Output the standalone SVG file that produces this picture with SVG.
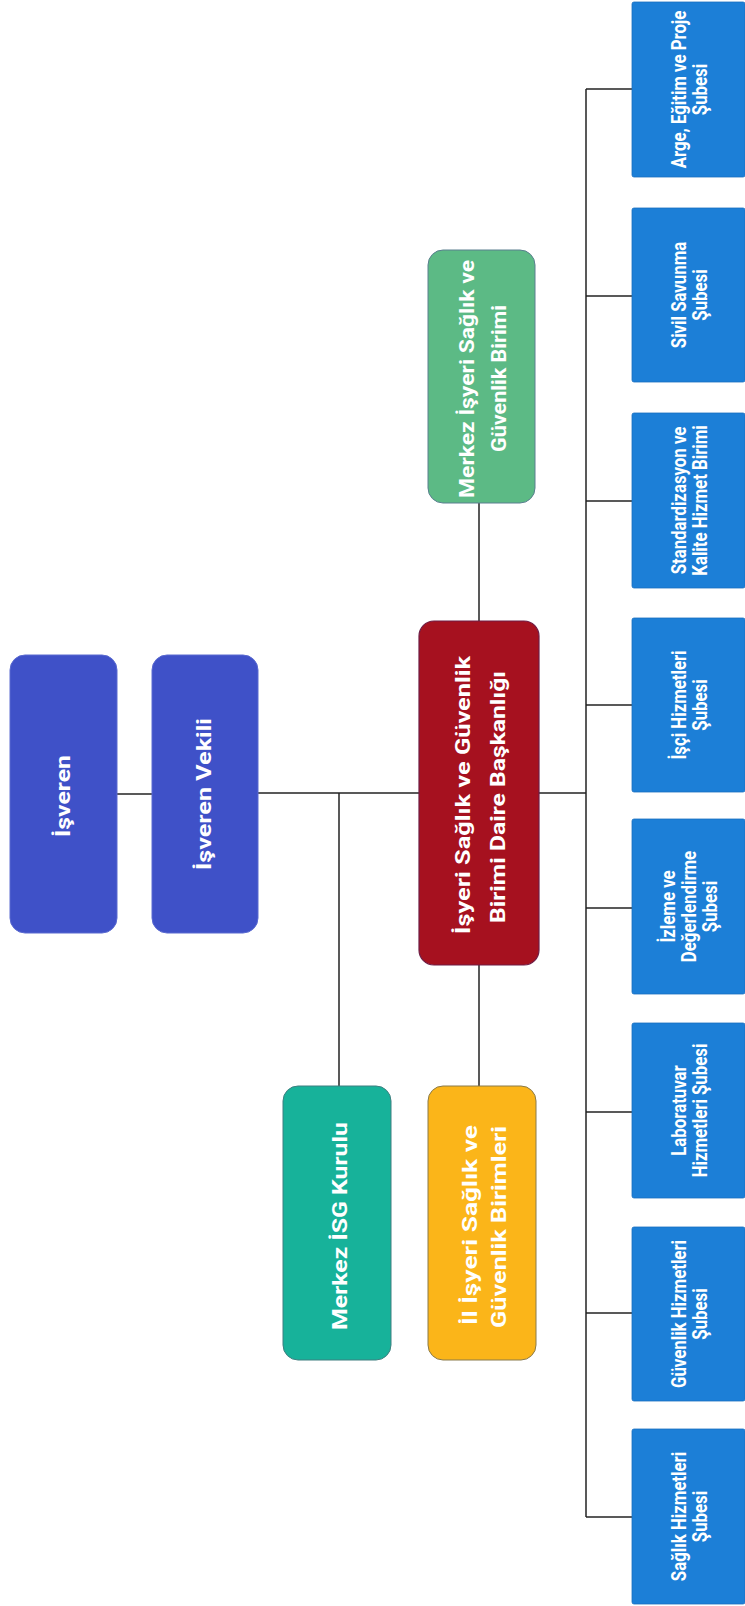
<svg xmlns="http://www.w3.org/2000/svg" width="745" height="1606" viewBox="0 0 745 1606">
<style>
.bg{fill:#ffffff}
.t{font-family:Roboto,"Liberation Sans",sans-serif;font-weight:700;fill:#ffffff;text-anchor:middle}
.m{font-size:21px}
.b{font-size:21px}
.blue{fill:#1c7fd7;stroke:#1a6fbf;stroke-width:0.8}
.conn{stroke:#222;stroke-width:1.5;fill:none}
</style>
<rect class="bg" x="0" y="0" width="745" height="1606"/>
<g id="connectors">
<line class="conn" x1="117" y1="794" x2="152" y2="794"/>
<line class="conn" x1="258" y1="793" x2="419" y2="793"/>
<line class="conn" x1="339" y1="793" x2="339" y2="1086"/>
<line class="conn" x1="539" y1="793" x2="586" y2="793"/>
<line class="conn" x1="479" y1="503" x2="479" y2="621"/>
<line class="conn" x1="479" y1="965" x2="479" y2="1086"/>
<line class="conn" x1="586" y1="89" x2="586" y2="1517"/>
<line class="conn" x1="586" y1="89" x2="632" y2="89"/>
<line class="conn" x1="586" y1="296" x2="632" y2="296"/>
<line class="conn" x1="586" y1="501" x2="632" y2="501"/>
<line class="conn" x1="586" y1="705" x2="632" y2="705"/>
<line class="conn" x1="586" y1="908" x2="632" y2="908"/>
<line class="conn" x1="586" y1="1112" x2="632" y2="1112"/>
<line class="conn" x1="586" y1="1313" x2="632" y2="1313"/>
<line class="conn" x1="586" y1="1517" x2="632" y2="1517"/>
</g>
<g id="isveren">
<rect x="10" y="655" width="107" height="278" rx="15" fill="#3f51c8" stroke="#5a6ad0" stroke-width="1"/>
<text class="t m" transform="translate(63.5,796) rotate(-90)" x="0" y="6" textLength="82" lengthAdjust="spacingAndGlyphs">İşveren</text>
</g>
<g id="isveren-vekili">
<rect x="152" y="655" width="106" height="278" rx="15" fill="#3f51c8" stroke="#5a6ad0" stroke-width="1"/>
<text class="t m" transform="translate(205,794) rotate(-90)" x="0" y="6" textLength="152" lengthAdjust="spacingAndGlyphs">İşveren Vekili</text>
</g>
<g id="daire-baskanligi">
<rect x="419" y="621" width="120" height="344" rx="15" fill="#a6111f" stroke="#6e1d45" stroke-width="1.2"/>
<text class="t m" transform="translate(479,795) rotate(-90)" x="0" y="-9" textLength="278" lengthAdjust="spacingAndGlyphs">İşyeri Sağlık ve Güvenlik</text>
<text class="t m" transform="translate(479,797) rotate(-90)" x="0" y="26" textLength="252" lengthAdjust="spacingAndGlyphs">Birimi Daire Başkanlığı</text>
</g>
<g id="merkez-isg-birimi">
<rect x="428" y="250" width="107" height="253" rx="15" fill="#5cba85" stroke="#5a7f8f" stroke-width="1"/>
<text class="t m" transform="translate(481.5,379) rotate(-90)" x="0" y="-7.5" textLength="238" lengthAdjust="spacingAndGlyphs">Merkez İşyeri Sağlık ve</text>
<text class="t m" transform="translate(481.5,378.5) rotate(-90)" x="0" y="24.5" textLength="147" lengthAdjust="spacingAndGlyphs">Güvenlik Birimi</text>
</g>
<g id="merkez-isg-kurulu">
<rect x="283" y="1086" width="108" height="274" rx="15" fill="#17b29a" stroke="#3f7f80" stroke-width="1"/>
<text class="t m" transform="translate(337,1226) rotate(-90)" x="0" y="10" textLength="208" lengthAdjust="spacingAndGlyphs">Merkez İSG Kurulu</text>
</g>
<g id="il-isg-birimleri">
<rect x="428" y="1086" width="108" height="274" rx="15" fill="#fbb519" stroke="#8a7a4a" stroke-width="1"/>
<text class="t m" transform="translate(482,1225) rotate(-90)" x="0" y="-5" textLength="200" lengthAdjust="spacingAndGlyphs">İl İşyeri Sağlık ve</text>
<text class="t m" transform="translate(482,1227) rotate(-90)" x="0" y="24" textLength="202" lengthAdjust="spacingAndGlyphs">Güvenlik Birimleri</text>
</g>
<g id="arge">
<rect class="blue" x="632" y="2" width="113" height="175" rx="2"/>
<text class="t b" transform="translate(688.5,89.5) rotate(-90) scale(0.8,1)"><tspan x="0" y="-3">Arge, Eğitim ve Proje</tspan><tspan x="0" y="18">Şubesi</tspan></text>
</g>
<g id="sivil-savunma">
<rect class="blue" x="632" y="208" width="113" height="174" rx="2"/>
<text class="t b" transform="translate(688.5,295) rotate(-90) scale(0.8,1)"><tspan x="0" y="-3">Sivil Savunma</tspan><tspan x="0" y="18">Şubesi</tspan></text>
</g>
<g id="standardizasyon">
<rect class="blue" x="632" y="413" width="113" height="175" rx="2"/>
<text class="t b" transform="translate(688.5,500.5) rotate(-90) scale(0.8,1)"><tspan x="0" y="-3">Standardizasyon ve</tspan><tspan x="0" y="18">Kalite Hizmet Birimi</tspan></text>
</g>
<g id="isci-hizmetleri">
<rect class="blue" x="632" y="618" width="113" height="174" rx="2"/>
<text class="t b" transform="translate(688.5,705) rotate(-90) scale(0.8,1)"><tspan x="0" y="-3">İşçi Hizmetleri</tspan><tspan x="0" y="18">Şubesi</tspan></text>
</g>
<g id="izleme">
<rect class="blue" x="632" y="819" width="113" height="175" rx="2"/>
<text class="t b" transform="translate(688.5,906.5) rotate(-90) scale(0.8,1)"><tspan x="0" y="-13.5">İzleme ve</tspan><tspan x="0" y="7.5">Değerlendirme</tspan><tspan x="0" y="28.5">Şubesi</tspan></text>
</g>
<g id="laboratuvar">
<rect class="blue" x="632" y="1023" width="113" height="175" rx="2"/>
<text class="t b" transform="translate(688.5,1110.5) rotate(-90) scale(0.8,1)"><tspan x="0" y="-3">Laboratuvar</tspan><tspan x="0" y="18">Hizmetleri Şubesi</tspan></text>
</g>
<g id="guvenlik-hizmetleri">
<rect class="blue" x="632" y="1227" width="113" height="174" rx="2"/>
<text class="t b" transform="translate(688.5,1314) rotate(-90) scale(0.8,1)"><tspan x="0" y="-3">Güvenlik Hizmetleri</tspan><tspan x="0" y="18">Şubesi</tspan></text>
</g>
<g id="saglik-hizmetleri">
<rect class="blue" x="632" y="1429" width="113" height="175" rx="2"/>
<text class="t b" transform="translate(688.5,1516.5) rotate(-90) scale(0.8,1)"><tspan x="0" y="-3">Sağlık Hizmetleri</tspan><tspan x="0" y="18">Şubesi</tspan></text>
</g>
</svg>
